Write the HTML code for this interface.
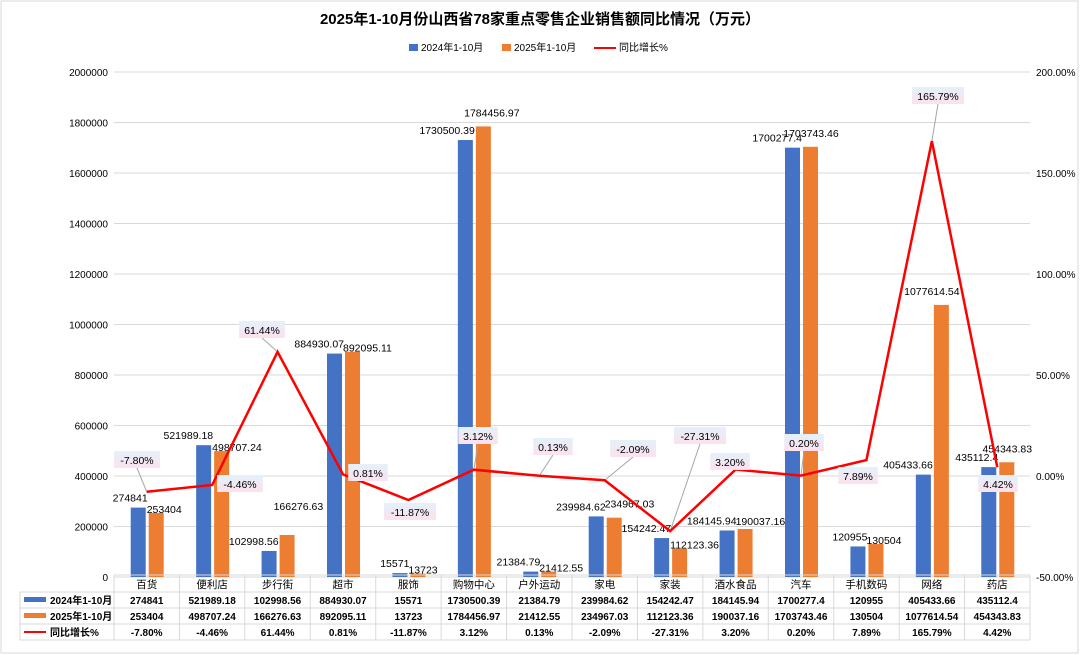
<!DOCTYPE html>
<html><head><meta charset="utf-8"><style>
body{margin:0;background:#fff;}
#c{width:1080px;height:655px;position:relative;overflow:hidden;}
svg text{font-family:"Liberation Sans","Noto Sans CJK SC",sans-serif;}
</style></head><body><div id="c"><svg id="s" width="1080" height="655" xmlns="http://www.w3.org/2000/svg"></svg></div>
<script>
const cats=["百货","便利店","步行街","超市","服饰","购物中心","户外运动","家电","家装","酒水食品","汽车","手机数码","网络","药店"];
const a=[274841,521989.18,102998.56,884930.07,15571,1730500.39,21384.79,239984.62,154242.47,184145.94,1700277.4,120955,405433.66,435112.4];
const b=[253404,498707.24,166276.63,892095.11,13723,1784456.97,21412.55,234967.03,112123.36,190037.16,1703743.46,130504,1077614.54,454343.83];
const p=[-7.80,-4.46,61.44,0.81,-11.87,3.12,0.13,-2.09,-27.31,3.20,0.20,7.89,165.79,4.42];
const pl=[[137,460],[240,484],[262,330],[368,473],[410,512],[478,436],[553,447],[633,449],[700,436],[730,462],[804,443],[858,476],[938,96],[998,484]];
// orange label overrides: [x offset from c, anchor, y offset from top]
const ob={5:[18,'middle',-10],10:[10,'middle',-10],12:[0,'middle',-10],13:[10,'middle',-10],2:[-4,'start',-25],7:[0,'start',-10],9:[0,'start',-4]};
const L=114,R=1030,W=(R-L)/14,Y0=577,k=505/2000000;
let h='<defs><linearGradient id="g" x1="0" y1="0" x2="0" y2="1"><stop offset="0" stop-color="#e3f1fb"/><stop offset="1" stop-color="#fde1ee"/></linearGradient></defs>';
h+='<rect x="1" y="1" width="1077" height="652" fill="#fff" stroke="#d9d9d9"/>';
h+='<text x="540" y="24" text-anchor="middle" font-size="15" font-weight="bold">2025年1-10月份山西省78家重点零售企业销售额同比情况（万元）</text>';
h+='<rect x="409" y="44" width="9" height="7" fill="#4472c4"/><text x="421" y="51" font-size="10">2024年1-10月</text>';
h+='<rect x="502" y="44" width="9" height="7" fill="#ed7d31"/><text x="514" y="51" font-size="10">2025年1-10月</text>';
h+='<line x1="594" y1="48" x2="616" y2="48" stroke="red" stroke-width="2"/><text x="619" y="51" font-size="10">同比增长%</text>';
for(let i=0;i<=10;i++){let y=Y0-i*50.5;h+=`<line x1="${L}" y1="${y}" x2="${R}" y2="${y}" stroke="#d9d9d9"/>`;h+=`<text x="108" y="${y+4}" text-anchor="end" font-size="10">${i*200000}</text>`;}
for(let i=0;i<=5;i++){let y=Y0-i*101;h+=`<text x="1036" y="${y+4}" font-size="10">${(-50+i*50).toFixed(2)}%</text>`;}
let pts=[];
for(let i=0;i<14;i++){let c=L+W*i+W/2;
let ha=a[i]*k,hb=b[i]*k;
h+=`<rect x="${c-16}" y="${Y0-ha}" width="15" height="${ha}" fill="#4472c4"/>`;
h+=`<rect x="${c+2}" y="${Y0-hb}" width="15" height="${hb}" fill="#ed7d31"/>`;
h+=`<text x="${c+1}" y="${Y0-ha-6}" text-anchor="end" font-size="10.5">${a[i]}</text>`;
let o=ob[i]||[0,'start',0];
h+=`<text x="${c+o[0]}" y="${Y0-hb+o[2]}" text-anchor="${o[1]}" font-size="10.5">${b[i]}</text>`;
pts.push([c,476-p[i]*2.02]);}
for(let i=0;i<14;i++){let [x,y]=pl[i];let [px,py]=pts[i];if(Math.abs(py-y)>18)h+=`<line x1="${x}" y1="${y+(py>y?8:-9)}" x2="${px}" y2="${py}" stroke="#a6a6a6"/>`;}
h+=`<polyline points="${pts.map(q=>q.join(',')).join(' ')}" fill="none" stroke="red" stroke-width="2.5"/>`;
for(let i=0;i<14;i++){let [x,y]=pl[i];let t=p[i].toFixed(2)+'%';let w=t.length*6.3+8;
h+=`<rect x="${x-w/2}" y="${y-9}" width="${w}" height="17" fill="url(#g)"/><text x="${x}" y="${y+4}" text-anchor="middle" font-size="10.5">${t}</text>`;}
const T=[575,592,608,624,640];
h+=`<line x1="${L}" y1="575" x2="${R}" y2="575" stroke="#d9d9d9"/>`;
for(let r=1;r<5;r++)h+=`<line x1="20" y1="${T[r]}" x2="${R}" y2="${T[r]}" stroke="#d9d9d9"/>`;
h+=`<line x1="20" y1="592" x2="20" y2="640" stroke="#d9d9d9"/>`;
for(let i=0;i<=14;i++){let x=L+W*i;h+=`<line x1="${x}" y1="575" x2="${x}" y2="640" stroke="#d9d9d9"/>`;}
h+='<rect x="24" y="597" width="22" height="5" fill="#4472c4"/><text x="50" y="604" font-size="10" font-weight="bold">2024年1-10月</text>';
h+='<rect x="24" y="613" width="22" height="5" fill="#ed7d31"/><text x="50" y="620" font-size="10" font-weight="bold">2025年1-10月</text>';
h+='<line x1="24" y1="632" x2="46" y2="632" stroke="red" stroke-width="2"/><text x="50" y="636" font-size="10" font-weight="bold">同比增长%</text>';
for(let i=0;i<14;i++){let c=L+W*i+W/2;
h+=`<text x="${c}" y="588" text-anchor="middle" font-size="10.5">${cats[i]}</text>`;
h+=`<text x="${c}" y="604" text-anchor="middle" font-size="10" font-weight="bold">${a[i]}</text>`;
h+=`<text x="${c}" y="620" text-anchor="middle" font-size="10" font-weight="bold">${b[i]}</text>`;
h+=`<text x="${c}" y="636" text-anchor="middle" font-size="10" font-weight="bold">${p[i].toFixed(2)}%</text>`;}
document.getElementById('s').innerHTML=h;
</script></body></html>
